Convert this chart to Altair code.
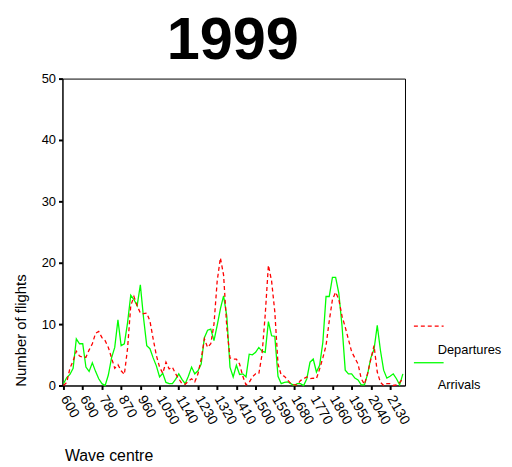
import altair as alt
import pandas as pd

waves = list(range(600, 2191, 15))

arrivals = [
    0.3, 1.3, 1.8, 2.8, 7.6, 6.8, 6.8, 3.0, 2.3, 3.7, 2.3, 1.1, 0.3, 0.0, 1.7, 4.5,
    6.2, 10.7, 6.5, 6.8, 10.2, 14.7, 14.0, 13.0, 16.4, 11.0, 6.5, 6.0, 4.5, 3.2, 1.4, 2.0,
    0.5, 0.3, 0.3, 1.0, 1.9, 1.0, 0.3, 1.5, 3.0, 1.9, 2.4, 3.5, 7.8, 9.0, 9.2, 7.3,
    9.8, 12.5, 14.6, 11.3, 3.0, 1.4, 3.3, 1.8, 1.9, 1.4, 5.1, 5.0, 5.4, 6.2, 5.6, 5.4,
    10.4, 8.1, 8.0, 1.5, 0.3, 0.5, 0.6, 0.3, 0.0, 0.3, 0.3, 0.0, 1.1, 3.8, 4.3, 2.2,
    3.3, 7.0, 14.5, 14.5, 17.6, 17.6, 15.0, 9.7, 2.5, 1.9, 1.9, 1.2, 0.9, 0.1, 0.1, 1.9,
    4.5, 5.9, 9.8, 5.7, 2.5, 1.2, 1.5, 1.9, 1.1, 0.1, 1.9,
]

departures = [
    0.0, 0.5, 2.8, 4.0, 5.6, 4.8, 4.6, 4.6, 5.8, 6.8, 8.5, 8.8, 7.8, 7.3, 6.2, 4.5,
    2.8, 3.4, 2.4, 1.8, 6.0, 13.0, 14.5, 13.0, 11.8, 11.7, 11.8, 10.5, 7.6, 4.9, 3.0, 2.0,
    3.8, 2.7, 3.0, 1.9, 1.1, 0.3, 0.2, 0.7, 1.1, 0.6, 1.9, 4.3, 7.6, 6.2, 6.8, 10.0,
    17.0, 20.8, 18.0, 9.5, 4.5, 4.3, 4.3, 3.5, 1.5, 0.1, 0.5, 1.4, 1.9, 1.9, 5.0, 11.5,
    19.6, 17.0, 12.0, 3.5, 1.7, 1.5, 0.9, 0.3, 0.1, 0.1, 0.8, 1.1, 1.4, 1.1, 1.2, 1.1,
    2.7, 4.5, 6.5, 10.5, 14.0, 15.2, 14.0, 11.3, 9.5, 7.5, 5.5, 4.5, 3.5, 1.1, 0.2, 2.0,
    4.3, 6.5, 2.2, 0.5, 0.0, 0.3, 0.3, 0.0, 0.1, 0.5, 1.1,
]

x_ticks = list(range(600, 2131, 90))
y_ticks = [0, 10, 20, 30, 40, 50]
legend_labels = ["Departures", "Arrivals"]
title_text = ["1999"]

assert len(waves) == len(arrivals) == len(departures)

df = pd.DataFrame({
    "wave": waves * 2,
    "count": arrivals + departures,
    "series": ["Arrivals"] * len(waves) + ["Departures"] * len(waves),
})

RED = "#ff0000"
GREEN = "#00ff00"

x_axis = alt.Axis(
    values=x_ticks, format="d", labelAngle=60, labelAlign="left", labelBaseline="middle",
    labelPadding=7, title="Wave centre", titleX=2, titleY=71,
    titleAnchor="start", titleAlign="left", titleBaseline="middle",
    titleFontSize=16, titleFontWeight="normal", labelFontSize=14,
    labelOverlap=False,
)
y_axis = alt.Axis(
    values=y_ticks, format="d", title="Number of flights", titleX=-42, titleY=254,
    titleAngle=-90, titleAlign="center", titleBaseline="middle",
    titleFontSize=15, titleFontWeight="normal", labelFontSize=13,
    labelPadding=3,
)

x_enc = alt.X("wave:Q", scale=alt.Scale(domain=[595, 2200], nice=False, zero=False), axis=x_axis)
y_enc = alt.Y("count:Q", scale=alt.Scale(domain=[0, 50], nice=False), axis=y_axis)

base = alt.Chart(df)
green_line = base.transform_filter(alt.datum.series == "Arrivals").mark_line(
    color=GREEN, strokeWidth=1.3
).encode(x=x_enc, y=y_enc)
red_line = base.transform_filter(alt.datum.series == "Departures").mark_line(
    color=RED, strokeWidth=1.3, strokeDash=[4, 3]
).encode(x=x_enc, y=y_enc)

leg_df = pd.DataFrame({"label": legend_labels})
leg_red = alt.Chart(leg_df).transform_filter(alt.datum.label == "Departures").mark_rule(
    color=RED, strokeDash=[4, 3], strokeWidth=1.3
).encode(x=alt.value(355), x2=alt.value(385), y=alt.value(250))
leg_green = alt.Chart(leg_df).transform_filter(alt.datum.label == "Arrivals").mark_rule(
    color=GREEN, strokeWidth=1.3
).encode(x=alt.value(355), x2=alt.value(385), y=alt.value(287))
leg_text_dep = alt.Chart(leg_df).transform_filter(alt.datum.label == "Departures").mark_text(
    align="left", baseline="middle", fontSize=13, font="Liberation Sans", color="black"
).encode(x=alt.value(379), y=alt.value(274), text="label:N")
leg_text_arr = alt.Chart(leg_df).transform_filter(alt.datum.label == "Arrivals").mark_text(
    align="left", baseline="middle", fontSize=13, font="Liberation Sans", color="black"
).encode(x=alt.value(379), y=alt.value(310), text="label:N")

title_mark = alt.Chart(pd.DataFrame({"t": title_text})).mark_text(
    align="center", baseline="alphabetic", fontSize=60, fontWeight="bold",
    font="Liberation Sans", color="black"
).encode(x=alt.value(172), y=alt.value(-20), text="t:N")

chart = alt.layer(
    green_line, red_line, leg_red, leg_green, leg_text_dep, leg_text_arr, title_mark
).properties(
    width=346,
    height=310,
    padding={"left": 55, "top": 69, "right": 100, "bottom": 78},
    autosize=alt.AutoSizeParams(type="none"),
).configure_view(
    stroke="black", strokeWidth=1
).configure_axis(
    grid=False, domainColor="black", tickColor="black", tickSize=4, tickWidth=2,
    labelColor="black", titleColor="black", labelFont="Liberation Sans",
    titleFont="Liberation Sans", domainWidth=1,
)

chart.save("out.html", embed_options={"renderer": "svg", "actions": False})
